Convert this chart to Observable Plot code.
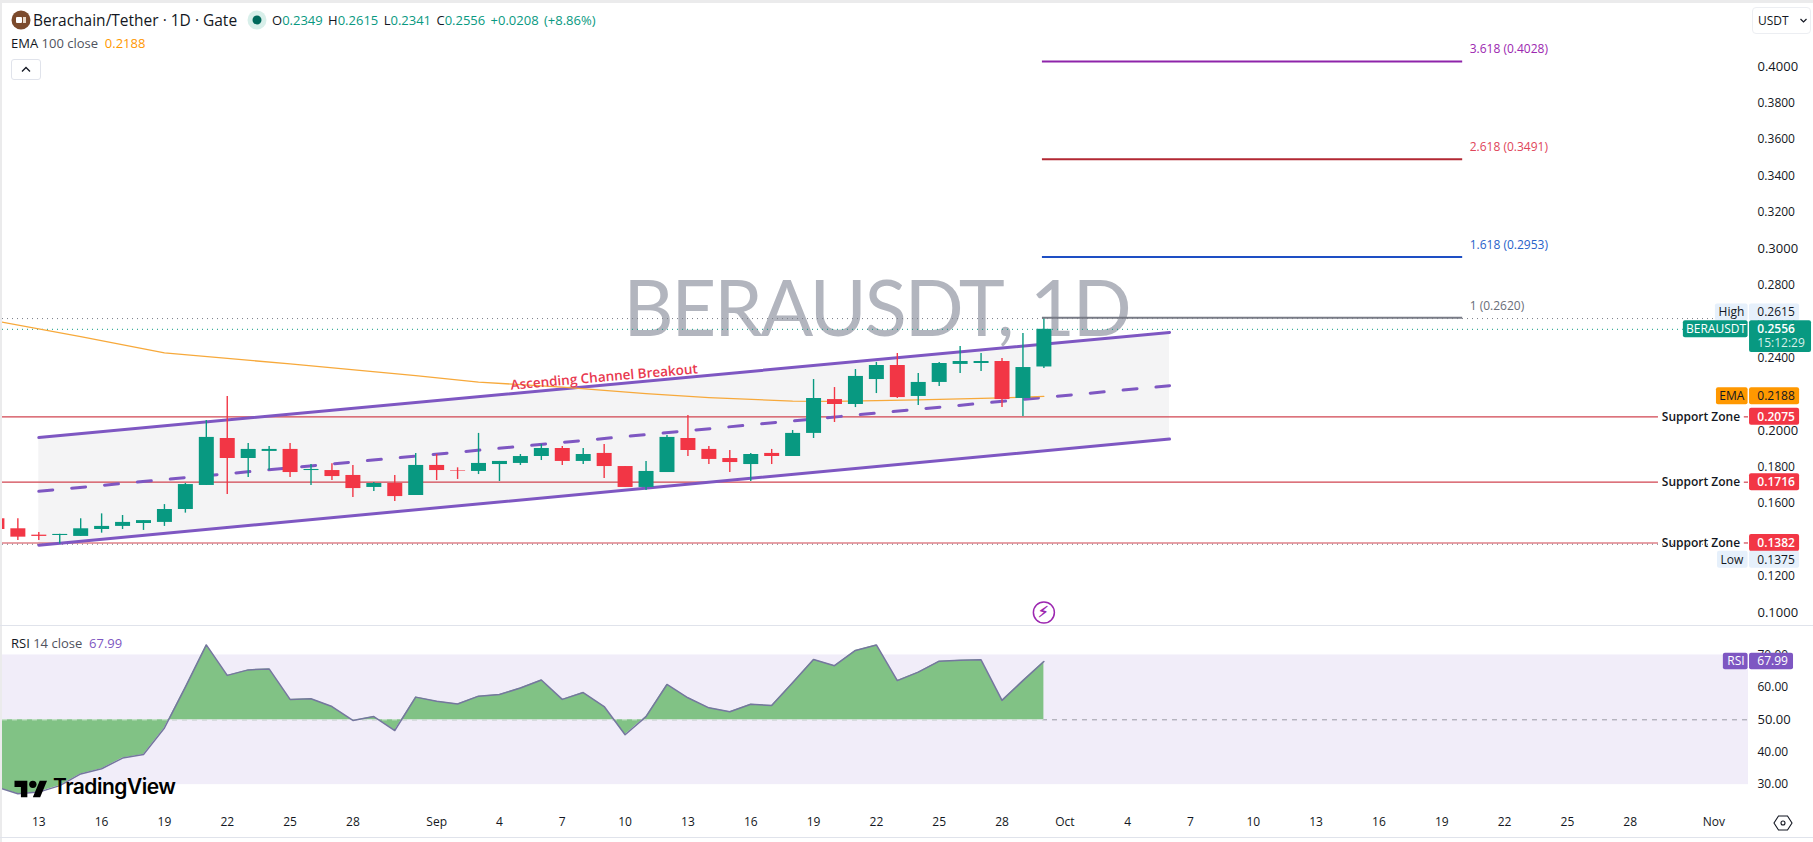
<!DOCTYPE html>
<html>
<head>
<meta charset="utf-8">
<script src="https://cdn.jsdelivr.net/npm/d3@7"></script>
<script src="https://cdn.jsdelivr.net/npm/@observablehq/plot@0.6"></script>
<style>
  html,body{margin:0;padding:0;background:#fff;overflow:hidden}
  body{width:1813px;height:842px;position:relative;font-family:"Open Sans",sans-serif;color:#131722}
  svg{display:block}
  .abs{position:absolute;white-space:nowrap}
  .g{color:#089981}
  .wm{letter-spacing:-2.4px}
</style>
</head>
<body>
<div id="chart"></div>
<div class="abs" style="left:0;top:0;width:1813px;height:3px;background:#ebebec"></div>
<div class="abs" style="left:0;top:0;width:2px;height:842px;background:#ebebec"></div>
<div class="abs" style="left:0;top:625px;width:1813px;height:1px;background:#e0e3eb"></div>
<div class="abs" style="left:0;top:837px;width:1813px;height:1px;background:#e0e3eb"></div>

<svg class="abs" style="left:11px;top:10px" width="20" height="20"><circle cx="10" cy="10" r="9.5" fill="#7b4a2c"/><rect x="5" y="7" width="6" height="6" rx="1" fill="#fff"/><rect x="12" y="7" width="3" height="6" fill="#e8d8c8"/></svg>
<div class="abs" style="left:33px;top:9px;font-size:15.5px;line-height:22px">Berachain/Tether · 1D · Gate</div>
<svg class="abs" style="left:247px;top:10px" width="20" height="20"><circle cx="10" cy="10" r="9.5" fill="#d8efea"/><circle cx="10" cy="10" r="4.5" fill="#00695c"/></svg>
<div class="abs" style="left:272px;top:11px;font-size:13px;line-height:18px;word-spacing:2px">O<span class="g">0.2349</span> H<span class="g">0.2615</span> L<span class="g">0.2341</span> C<span class="g">0.2556 +0.0208 (+8.86%)</span></div>
<div class="abs" style="left:11px;top:34px;font-size:13px;line-height:18px">EMA <span style="color:#50535e">100 close</span> &nbsp;<span style="color:#ff9800">0.2188</span></div>
<div class="abs" style="left:11px;top:59px;width:28px;height:19px;border:1px solid #e0e3eb;border-radius:3px;background:#fff"><svg width="28" height="19"><path d="M10 11.5l4-4 4 4" fill="none" stroke="#131722" stroke-width="1.3"/></svg></div>
<div class="abs" style="left:1752px;top:7px;width:57px;height:25px;border:1px solid #eceef2;border-radius:4px;background:#fff;font-size:12px;line-height:25px;text-indent:5px">USDT<svg class="abs" style="left:46px;top:9px" width="9" height="7"><path d="M1.5 2l3 3 3-3" fill="none" stroke="#131722" stroke-width="1.2"/></svg></div>
<div class="abs" style="left:11px;top:634px;font-size:13px;line-height:18px">RSI <span style="color:#50535e">14 close</span> &nbsp;<span style="color:#7e57c2">67.99</span></div>

<svg class="abs" style="left:13px;top:777px" width="36" height="22" viewBox="0 0 36 24"><path d="M14 22H7V11H0V4h14v18zM28 22h-8l7.5-18h8L28 22z" fill="#000"/><circle cx="20" cy="8" r="4" fill="#000"/></svg>
<div class="abs" style="left:53px;top:772px;font-family:Inter,sans-serif;font-weight:600;font-size:21px;line-height:30px;letter-spacing:-.5px;color:#000">TradingView</div>
<svg class="abs" style="left:1773px;top:814px" width="20" height="18"><path d="M5.5 2h9l4.5 7-4.5 7h-9L1 9z" fill="none" stroke="#131722" stroke-width="1.1"/><circle cx="10" cy="9" r="2" fill="none" stroke="#131722" stroke-width="1.1"/></svg>

<script>
// ---------- data ----------
const firstDay = "2025-08-11";
const open  = [.1515,.1460,.1425,.1423,.1418,.1456,.1473,.1489,.1495,.1566,.1698,.1956,.1846,.1885,.1896,.1780,.1780,.1753,.1687,.1709,.1643,
               .1808,.1780,.1775,.1813,.1819,.1857,.1901,.1830,.1874,.1802,.1687,.1769,.1956,.1896,.1846,.1813,.1874,.1857,.1984,.2170,.2143,.2280,.2357,.2187,.2264,.2363,.2368,.2379,.2176,.2349];
const high  = [.1515,.1515,.1440,.1430,.1515,.1542,.1533,.1505,.1593,.1709,.2055,.2187,.1929,.1912,.1929,.1813,.1817,.1808,.1714,.1753,.1874,
               .1868,.1795,.1984,.1830,.1868,.1923,.1912,.1901,.1923,.1802,.1830,.1973,.2082,.1912,.1890,.1874,.1896,.2000,.2280,.2236,.2335,.2374,.2423,.2313,.2374,.2462,.2423,.2396,.2533,.2615];
const low   = [.1456,.1396,.1396,.1377,.1418,.1436,.1456,.1451,.1473,.1546,.1698,.1648,.1742,.1780,.1742,.1698,.1725,.1632,.1665,.1610,.1643,
               .1725,.1731,.1758,.1720,.1808,.1835,.1808,.1813,.1736,.1687,.1670,.1769,.1857,.1813,.1769,.1720,.1813,.1857,.1956,.2044,.2126,.2203,.2176,.2137,.2242,.2313,.2324,.2126,.2077,.2341];
const close = [.1456,.1414,.1418,.1429,.1460,.1473,.1495,.1505,.1566,.1703,.1962,.1846,.1896,.1896,.1769,.1786,.1747,.1681,.1709,.1637,.1808,
               .1780,.1777,.1819,.1830,.1857,.1901,.1830,.1868,.1802,.1687,.1775,.1962,.1890,.1841,.1824,.1868,.1857,.1984,.2176,.2143,.2297,.2357,.2181,.2264,.2368,.2379,.2379,.2170,.2346,.2556];
const rsi   = [29.2,27.2,27.7,29.7,33.3,34.9,38.2,39.3,47.5,60.1,73.1,63.7,65.4,65.7,56.3,56.5,54.1,49.8,51.0,46.7,57.0,
               55.7,54.9,57.3,57.8,59.8,62.3,56.3,58.4,54.1,45.4,51.0,60.9,56.8,53.7,52.5,54.8,54.4,61.4,68.6,66.7,71.4,73.1,62.1,64.7,68.1,68.4,68.5,56.0,62.1,67.99];
const emaDays   = ["2025-08-11","2025-08-15","2025-08-19","2025-08-25","2025-08-31","2025-09-03","2025-09-07","2025-09-11","2025-09-14","2025-09-18","2025-09-20","2025-09-24","2025-09-28","2025-09-30"];
const emaValues = [.2601,.2516,.2426,.2366,.2302,.2266,.2238,.2203,.2181,.2161,.2160,.2168,.2179,.2188];
const channelDays  = ["2025-08-13","2025-10-06"];
const channelUpper = [.19615,.25385];
const channelMid   = [.1666,.2246];
const channelLower = [.1370,.1953];
const supportLevels = [.2075,.1716,.1382];
const fibLevels = ["3.618","2.618","1.618","1"];
const fibPrices = [.4028,.3491,.2953,.2620];
const priceTicks = [.12,.14,.16,.18,.22,.24,.26,.28,.32,.34,.36,.38];
const priceMajor = [.10,.20,.30,.40];
const rsiTicks = [30,40,60,70];
const timeTicks = ["2025-08-13","2025-08-16","2025-08-19","2025-08-22","2025-08-25","2025-08-28","2025-09-01","2025-09-04","2025-09-07","2025-09-10","2025-09-13","2025-09-16","2025-09-19","2025-09-22","2025-09-25","2025-09-28","2025-10-01","2025-10-04","2025-10-07","2025-10-10","2025-10-13","2025-10-16","2025-10-19","2025-10-22","2025-10-25","2025-10-28","2025-11-01"];
const HIGH = .2615, LAST = .2556, LOW = .1375, EMA_LAST = .2188, RSI_LAST = 67.99;

// ---------- helpers ----------
const day = s => new Date(s + "T00:00:00Z");
const base = +day("2025-08-13");
const at = n => new Date(base + n * 864e5);           // days after 13 Aug (fractions reach the price axis column)
const xScale = {type:"utc", domain:[at(-1.7335), at(81.65)], axis:null};
const font = '"Open Sans",sans-serif';
const style = {fontFamily:font, background:"transparent", overflow:"visible"};
const days = d3.utcDay.range(day(firstDay), at(49));
const candles = open.map((o,i)=>({date:days[i],open:o,high:high[i],low:low[i],close:close[i]}));
const GREEN="#089981", RED="#f23645", PURPLE="#7e57c2";
const col = d => d.close >= d.open ? GREEN : RED;
const lineEnd = at(-1.7335);
const channel = channelDays.map((s,i)=>({date:day(s),up:channelUpper[i],mid:channelMid[i],lo:channelLower[i]}));
const ema = emaDays.map((s,i)=>({date:day(s),v:emaValues[i]}));

// value tag in the price column
const H = .00467;
const tag = (value,x1,x2,fill,dy=0) => Plot.rect([value],{x1:at(x1),x2:at(x2),y1:v=>v-H,y2:v=>v+H,fill,dy,rx:2});
const tagText = (value,label,xn,color,dy=0,anchor="start",weight=400) =>
  Plot.text([value],{x:at(xn),y:v=>v,text:()=>label,fill:color,dy,textAnchor:anchor,fontSize:12,fontWeight:weight});

// ---------- price pane ----------
const fibColors = ["#8e24aa","#b22833","#1e4fc4","#787b86"];
const fibText   = ["#9c27b0","#e0455a","#2962c9","#6a6d78"];
const pricePane = Plot.plot({
  width:1813, height:625, marginTop:0, marginBottom:0, marginLeft:2, marginRight:65, style,
  x:xScale,
  y:{domain:[.09286,.43626], axis:null},
  marks:[
    Plot.text(["BERAUSDT, 1D"],{x:()=>day("2025-09-22"),y:()=>.2654,text:d=>d,fontSize:78,fontFamily:"Lato, sans-serif",fill:"#b2b5be",textAnchor:"middle",lineAnchor:"middle",className:"wm"}),
    Plot.areaY(channel,{x:"date",y1:"lo",y2:"up",fill:"#f4f4f5"}),
    Plot.ruleY(supportLevels,{x1:lineEnd,x2:at(77.35),stroke:"#d14450",strokeWidth:1.2}),
    Plot.ruleY(supportLevels,{x1:at(81.45),x2:at(81.65),stroke:"#d14450",strokeWidth:1.2}),
    Plot.ruleY([HIGH],{x1:lineEnd,x2:at(80.07),stroke:"#787b86",strokeWidth:1,strokeDasharray:"1,4"}),
    Plot.ruleY([LAST],{x1:lineEnd,x2:at(78.54),stroke:GREEN,strokeWidth:1,strokeDasharray:"1,4"}),
    Plot.ruleY([LOW],{x1:lineEnd,x2:at(80.17),stroke:"#787b86",strokeWidth:1,strokeDasharray:"1,4"}),
    Plot.line(channel,{x:"date",y:"mid",stroke:PURPLE,strokeWidth:3,strokeDasharray:"14,19"}),
    Plot.line(channel,{x:"date",y:"up",stroke:PURPLE,strokeWidth:3}),
    Plot.line(channel,{x:"date",y:"lo",stroke:PURPLE,strokeWidth:3}),
    Plot.line(ema,{x:"date",y:"v",stroke:"#f7a93b",strokeWidth:1.3,clip:"frame"}),
    Plot.ruleX(candles,{x:"date",y1:"low",y2:"high",stroke:col,strokeWidth:1.4,clip:"frame"}),
    Plot.ruleX(candles,{x:"date",y1:"open",y2:"close",stroke:col,strokeWidth:15,clip:"frame"}),
    Plot.text(["Ascending Channel Breakout"],{x:()=>day("2025-09-09"),y:()=>.2293,text:d=>d,rotate:-5,fontSize:13.5,fontWeight:600,fill:"#e8394f"}),
    ...fibLevels.flatMap((lv,i)=>[
      Plot.ruleY([fibPrices[i]],{x1:at(47.93),x2:at(68),stroke:fibColors[i],strokeWidth:2}),
      Plot.text([fibPrices[i]],{x:at(68),y:v=>v,dx:7,dy:-12,text:v=>`${lv} (${v.toFixed(4)})`,textAnchor:"start",fontSize:12,fill:fibText[i]})
    ]),
    Plot.dot([.1],{x:at(48),y:v=>v,r:10.5,fill:"#fff",stroke:"#9c27b0",strokeWidth:1.5}),
    Plot.text(["\u26A1\uFE0E"],{x:at(48),y:()=>.1,text:d=>d,fontSize:15,fontWeight:700,fill:"#9c27b0"}),
    Plot.axisY(priceTicks,{anchor:"right",tickSize:0,tickPadding:9,tickFormat:v=>v.toFixed(4),fontSize:12,color:"#131722",label:null}),
    Plot.axisY(priceMajor,{anchor:"right",tickSize:0,tickPadding:9,tickFormat:v=>v.toFixed(4),fontSize:13,color:"#131722",label:null}),
    // tags
    tag(HIGH,80.07,81.63,"#e6f0fb",-6),
    tag(HIGH,81.7,84.09,"#e6f0fb",-6),
    tagText(HIGH,"High",81.45,"#131722",-6,"end"),
    tagText(HIGH,HIGH.toFixed(4),82.07,"#131722",-6),
    tag(LAST,78.54,81.63,GREEN),
    Plot.rect([LAST],{x1:at(81.7),x2:at(84.66),y1:v=>v+H,y2:v=>v-.0127,fill:GREEN,rx:2}),
    tagText(LAST,"BERAUSDT",80.1,"#fff",0,"middle"),
    tagText(LAST,LAST.toFixed(4),82.07,"#fff",0,"start",600),
    Plot.text(["15:12:29"],{x:at(82.07),y:()=>LAST,dy:14,text:d=>d,textAnchor:"start",fontSize:12,fill:"#d7f0ea"}),
    tag(EMA_LAST,80.12,81.63,"#ff9800"),
    tag(EMA_LAST,81.7,84.09,"#ff9800"),
    tagText(EMA_LAST,"EMA",81.45,"#131722",0,"end"),
    tagText(EMA_LAST,EMA_LAST.toFixed(4),82.07,"#131722"),
    ...supportLevels.flatMap(v=>[
      tag(v,81.7,84.09,RED),
      tagText(v,"Support Zone",81.25,"#131722",0,"end",600),
      tagText(v,v.toFixed(4),82.07,"#fff",0,"start",600)
    ]),
    tag(LOW,80.17,81.63,"#e6f0fb",15.5),
    tag(LOW,81.7,84.09,"#e6f0fb",15.5),
    tagText(LOW,"Low",81.4,"#131722",15.5,"end"),
    tagText(LOW,LOW.toFixed(4),82.07,"#131722",15.5)
  ]
});

// ---------- RSI pane with the time axis ----------
const rsiData = days.map((d,i)=>({date:d,v:rsi[i]}));
const RH = 2.55;
const rsiPane = Plot.plot({
  width:1813, height:217, marginTop:0, marginBottom:30, marginLeft:2, marginRight:65, style,
  x:{...xScale, axis:null},
  y:{domain:[21.41,79.09], axis:null},
  marks:[
    Plot.rect([0],{x1:at(-1.7335),x2:at(81.65),y1:()=>30,y2:()=>70,fill:"#f1edf9"}),
    Plot.ruleY([50],{x1:at(-1.7335),x2:at(81.65),stroke:"#9a9ca6",strokeWidth:1,strokeDasharray:"5,5"}),
    Plot.areaY(rsiData,{x:"date",y1:()=>50,y2:"v",fill:"#81c285",clip:"frame"}),
    Plot.ruleY([50],{x1:at(-1.7335),x2:at(48),stroke:"#dbeedc",strokeWidth:1,strokeDasharray:"5,5"}),
    Plot.line(rsiData,{x:"date",y:"v",stroke:"#75769f",strokeWidth:1.5,clip:"frame"}),
    Plot.axisY(rsiTicks,{anchor:"right",tickSize:0,tickPadding:9,tickFormat:v=>v.toFixed(2),fontSize:12,color:"#131722",label:null}),
    Plot.axisY([50],{anchor:"right",tickSize:0,tickPadding:9,tickFormat:v=>v.toFixed(2),fontSize:13,color:"#131722",label:null}),
    Plot.axisX(timeTicks.map(day),{anchor:"bottom",tickSize:0,tickPadding:5,fontSize:12,color:"#131722",label:null,
      tickFormat:d=>d.getUTCDate()===1?d3.utcFormat("%b")(d):String(d.getUTCDate())}),
    Plot.rect([RSI_LAST],{x1:at(80.45),x2:at(81.63),y1:v=>v-RH,y2:v=>v+RH,fill:PURPLE,rx:2}),
    Plot.rect([RSI_LAST],{x1:at(81.7),x2:at(83.8),y1:v=>v-RH,y2:v=>v+RH,fill:PURPLE,rx:2}),
    Plot.text(["RSI"],{x:at(81.05),y:()=>RSI_LAST,text:d=>d,fontSize:12,fill:"#fff",fontWeight:500}),
    Plot.text([RSI_LAST],{x:at(82.07),y:v=>v,text:v=>v.toFixed(2),fontSize:12,fill:"#fff",textAnchor:"start",fontWeight:500})
  ]
});

document.getElementById("chart").append(pricePane, rsiPane);
</script>
</body>
</html>
